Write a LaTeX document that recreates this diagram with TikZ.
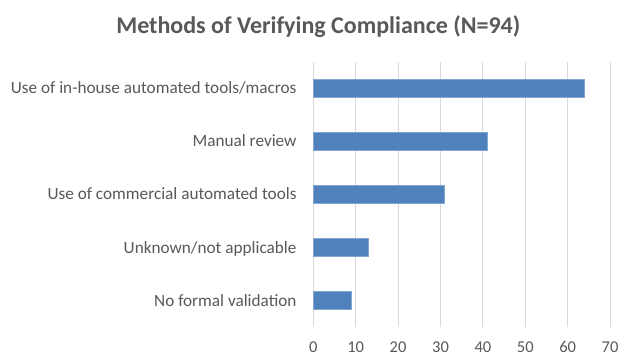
\documentclass[tikz,border=0pt]{standalone}
\usepackage{fontspec}
\setmainfont{Carlito}
\definecolor{txtgray}{HTML}{595959}
\definecolor{gridgray}{HTML}{D9D9D9}
\definecolor{barblue}{HTML}{4F81BD}
\begin{document}
\begin{tikzpicture}[x=1pt,y=-1pt,
  gridline/.style={draw=gridgray,line width=1pt},
  barbox/.style={fill=barblue,draw=barblue!70!white,line width=0.5pt},
  catlabel/.style={anchor=base east,text=txtgray,font=\fontsize{17.2}{20}\selectfont,inner sep=0pt},
  ticklabel/.style={anchor=base,text=txtgray,font=\fontsize{16.5}{19}\selectfont,inner sep=0pt},
  titlelabel/.style={anchor=base,text=txtgray,font=\fontsize{24}{28}\selectfont\bfseries,inner sep=0pt}]
\useasboundingbox (0,0) rectangle (619,356);
\fill[white] (0,0) rectangle (619,356);
\def\xo{313.3}
\def\xs{4.24}
% gridlines and tick labels
\foreach \v in {0,10,...,70}{
  \draw[gridline] ({\xo+\v*\xs},62) -- ({\xo+\v*\xs},327);
  \node[ticklabel] (t\v) at ({\xo+\v*\xs},352.5) {\v};
}
% title
\node[titlelabel] (title) at (318.3,33.3) {Methods of Verifying Compliance (N=94)};
% bars
\foreach \name/\val/\yc/\lab in {
  b1/64/88/{Use of in-house automated tools/macros},
  b2/41/141.2/{Manual review},
  b3/31/194.3/{Use of commercial automated tools},
  b4/13/247.5/{Unknown/not applicable},
  b5/9/300.5/{No formal validation}}{
  \draw[barbox] (\xo,\yc-9.2) rectangle ({\xo+\val*\xs},\yc+9.2);
  \node[catlabel] (l\name) at (296.7,\yc+5.6) {\lab};
}
\end{tikzpicture}
\end{document}
